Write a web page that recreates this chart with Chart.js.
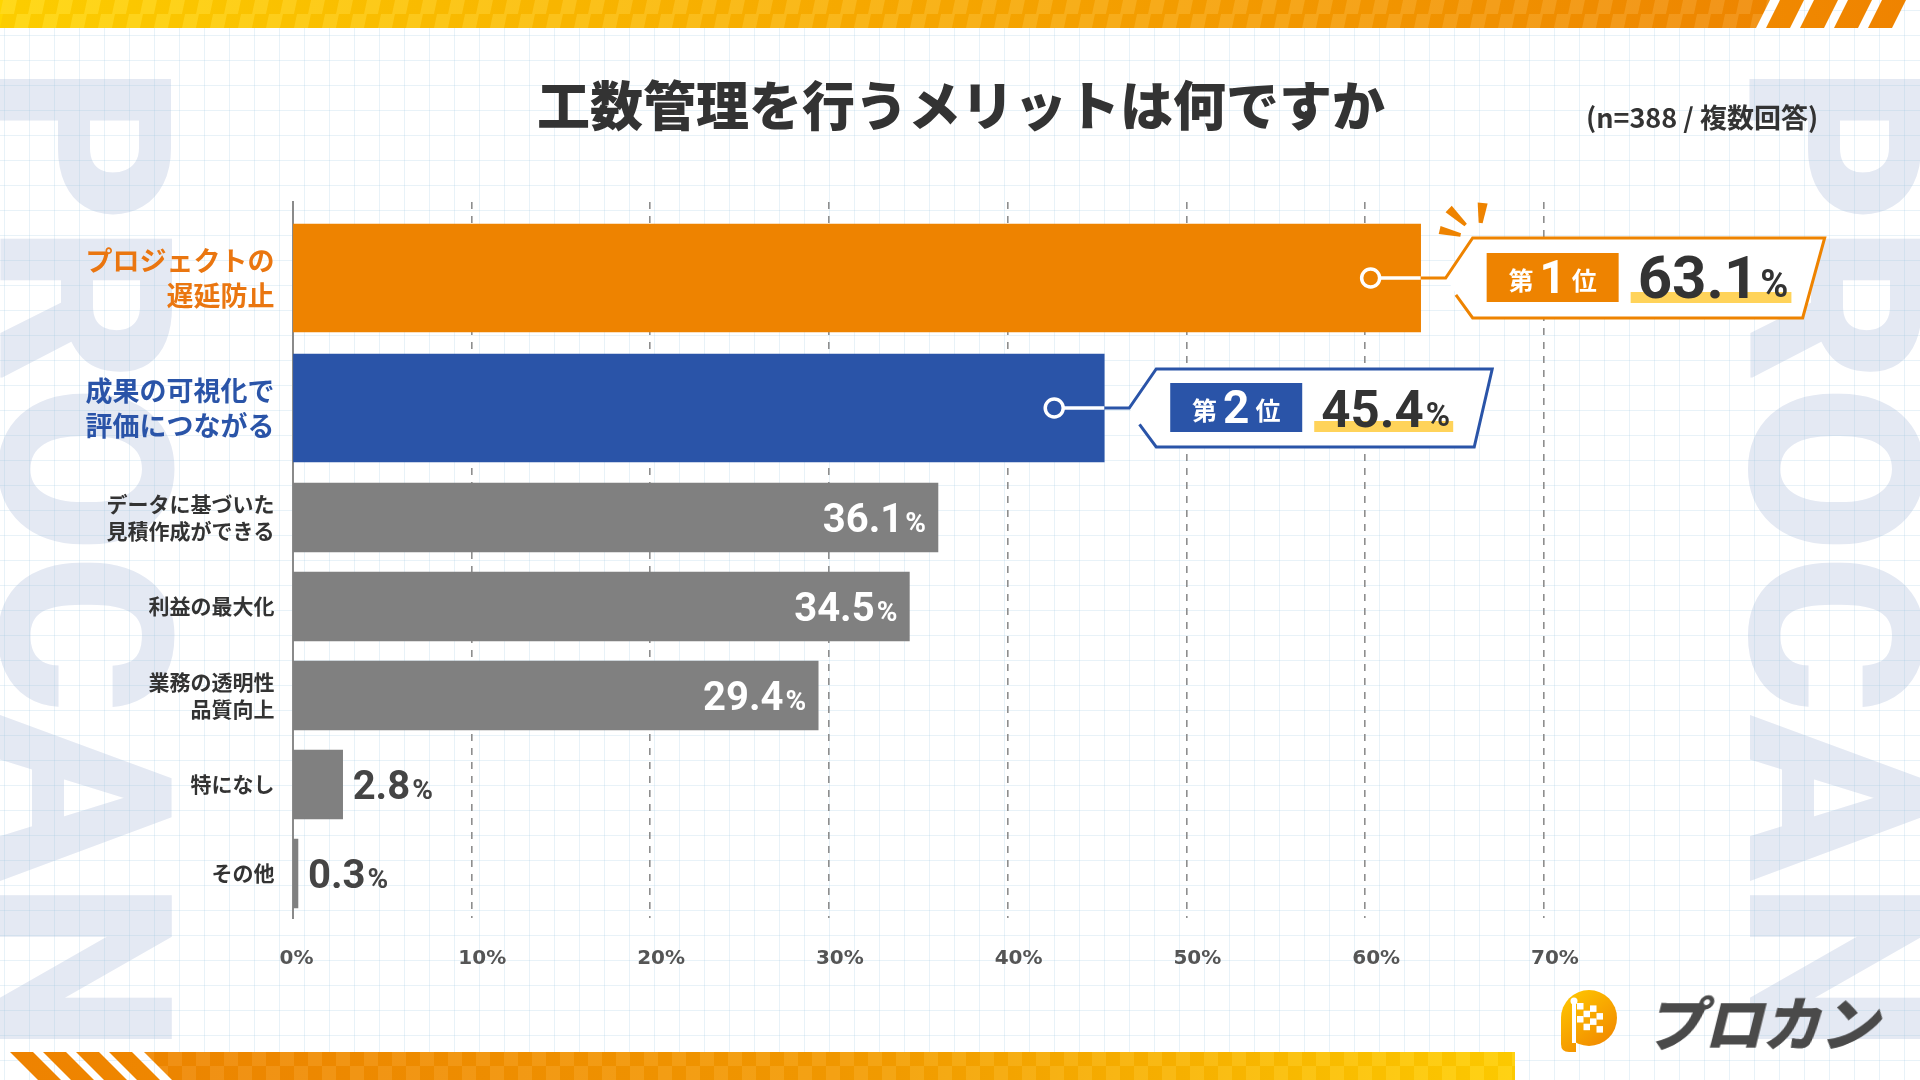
<!DOCTYPE html>
<html lang="ja">
<head>
<meta charset="utf-8">
<script src="https://cdn.jsdelivr.net/npm/chart.js@4.4.1/dist/chart.umd.min.js"></script>
<style>
html,body{margin:0;padding:0;}
body{width:1920px;height:1080px;position:relative;overflow:hidden;background:#ffffff;font-family:'Noto Sans CJK JP','Noto Sans',sans-serif;}
.wm{position:absolute;top:66px;font-family:Roboto,'Noto Sans',sans-serif;font-weight:900;font-size:242px;line-height:242px;color:#e4e9f3;transform-origin:0 0;transform:rotate(90deg);white-space:nowrap;z-index:0;letter-spacing:2px;}
#deco{position:absolute;left:0;top:0;z-index:1;}
#c{position:absolute;left:0;top:0;z-index:2;}
.title{position:absolute;left:0;top:77px;width:1922px;text-align:center;font-size:53px;line-height:53px;font-weight:900;color:#333333;z-index:3;letter-spacing:0px;}
.sub{position:absolute;left:1586px;top:102px;font-size:27px;line-height:30px;font-weight:700;color:#333333;z-index:3;white-space:nowrap;}
.logo{position:absolute;left:1644px;top:990px;font-size:59px;line-height:62px;font-weight:900;color:#4a4a4a;z-index:3;white-space:nowrap;transform:skewX(-14deg);transform-origin:50% 100%;letter-spacing:-1px;}
</style>
</head>
<body>
<div class="wm" style="left:204px;">PROCAN</div>
<div class="wm" style="left:1954px;">PROCAN</div>
<canvas id="deco" width="1920" height="1080"></canvas>
<canvas id="c" width="1920" height="1080"></canvas>
<div class="title">工数管理を行うメリットは何ですか</div>
<div class="sub">(n=388 / 複数回答)</div>
<div class="logo">プロカン</div>
<script>
// ---------- DATA ----------
const topCategories = [['プロジェクトの', '遅延防止'], ['成果の可視化で', '評価につながる']];
const topValues = [63.1, 45.4];
const topRanks = ['1', '2'];
const otherCategories = [['データに基づいた', '見積作成ができる'], '利益の最大化', ['業務の透明性', '品質向上'], '特になし', 'その他'];
const otherValues = [36.1, 34.5, 29.4, 2.8, 0.3];
const xTickValues = [0, 10, 20, 30, 40, 50, 60, 70];

// ---------- STYLE ----------
const ORANGE = '#EE8300';
const ORANGE_TEXT = '#EA7610';
const BLUE = '#2A54A8';
const GRAY = '#808080';
const NUM_FONT = 'Roboto, "DejaVu Sans", sans-serif';
const JP_FONT = '"Noto Sans CJK JP", "Noto Sans", sans-serif';

// ---------- DECORATION (background) ----------
(function drawDeco(){
  const cv = document.getElementById('deco');
  const g = cv.getContext('2d');
  g.strokeStyle = 'rgba(150,195,225,0.22)';
  g.lineWidth = 1;
  for (let x = 4.5; x < 1920; x += 25) { g.beginPath(); g.moveTo(x, 0); g.lineTo(x, 1080); g.stroke(); }
  for (let y = 10.5; y < 1080; y += 25) { g.beginPath(); g.moveTo(0, y); g.lineTo(1920, y); g.stroke(); }

  const tg = g.createLinearGradient(0, 0, 1910, 0);
  tg.addColorStop(0, '#FFD500'); tg.addColorStop(0.45, '#F9AE00'); tg.addColorStop(1, '#EF8300');
  g.fillStyle = tg;
  g.beginPath(); g.moveTo(0, 0); g.lineTo(1770, 0); g.lineTo(1756, 28); g.lineTo(0, 28); g.closePath(); g.fill();
  for (let k = 0; k < 4; k++) {
    const b = 1766 + k * 34;
    g.beginPath(); g.moveTo(b, 28); g.lineTo(b + 24, 28); g.lineTo(b + 38, 0); g.lineTo(b + 14, 0); g.closePath(); g.fill();
  }
  g.save();
  g.beginPath(); g.moveTo(0, 0); g.lineTo(1770, 0); g.lineTo(1756, 28); g.lineTo(0, 28); g.closePath(); g.clip();
  for (let x = 0; x < 1770; x += 14) {
    for (let r = 0; r < 2; r++) {
      g.fillStyle = ((x / 14 + r) % 2 === 0) ? 'rgba(255,255,255,0.10)' : 'rgba(200,90,0,0.06)';
      g.beginPath();
      g.moveTo(x + 3, r * 14); g.lineTo(x + 17, r * 14); g.lineTo(x + 14, r * 14 + 14); g.lineTo(x, r * 14 + 14); g.closePath(); g.fill();
    }
  }
  g.restore();

  const bg = g.createLinearGradient(0, 0, 1515, 0);
  bg.addColorStop(0, '#EE8200'); bg.addColorStop(0.55, '#F39A00'); bg.addColorStop(1, '#FFCF00');
  g.fillStyle = bg;
  g.beginPath(); g.moveTo(144, 1052); g.lineTo(1515, 1052); g.lineTo(1515, 1080); g.lineTo(172, 1080); g.closePath(); g.fill();
  for (let k = 0; k < 4; k++) {
    const t = 10 + k * 33;
    g.beginPath(); g.moveTo(t, 1052); g.lineTo(t + 23, 1052); g.lineTo(t + 51, 1080); g.lineTo(t + 28, 1080); g.closePath(); g.fill();
  }
  g.save();
  g.beginPath(); g.moveTo(144, 1052); g.lineTo(1515, 1052); g.lineTo(1515, 1080); g.lineTo(172, 1080); g.closePath(); g.clip();
  for (let x = 140; x < 1515; x += 14) {
    for (let r = 0; r < 2; r++) {
      g.fillStyle = ((x / 14 + r) % 2 === 0) ? 'rgba(255,255,255,0.08)' : 'rgba(200,90,0,0.05)';
      g.fillRect(x, 1052 + r * 14, 14, 14);
    }
  }
  g.restore();

  const lg = g.createLinearGradient(1565, 990, 1612, 1052);
  lg.addColorStop(0, '#FFC800'); lg.addColorStop(1, '#F08200');
  g.fillStyle = lg;
  g.beginPath(); g.arc(1589, 1018, 28, 0, Math.PI * 2); g.fill();
  g.beginPath();
  g.moveTo(1561, 1018); g.lineTo(1561, 1044); g.quadraticCurveTo(1561, 1052, 1569, 1052); g.lineTo(1576, 1052); g.lineTo(1576, 1030); g.closePath(); g.fill();
  g.fillStyle = '#ffffff';
  g.fillRect(1572, 1003, 4, 40);
  g.beginPath(); g.arc(1574, 1001, 3.5, 0, Math.PI * 2); g.fill();
  const sq = 6.5;
  for (let r = 0; r < 4; r++) {
    for (let c = 0; c < 4; c++) {
      if ((r + c) % 2 === 0) g.fillRect(1577 + c * sq, 1003 + r * sq + c * 1.2, sq, sq);
    }
  }
})();

// ---------- CHART ----------
function drawWedge(ctx, x1, y1, x2, y2, w1, w2) {
  const dx = x2 - x1, dy = y2 - y1, len = Math.hypot(dx, dy);
  const nx = -dy / len, ny = dx / len;
  ctx.beginPath();
  ctx.moveTo(x1 + nx * w1 / 2, y1 + ny * w1 / 2);
  ctx.lineTo(x2 + nx * w2 / 2, y2 + ny * w2 / 2);
  ctx.lineTo(x2 - nx * w2 / 2, y2 - ny * w2 / 2);
  ctx.lineTo(x1 - nx * w1 / 2, y1 - ny * w1 / 2);
  ctx.closePath(); ctx.fill();
}

function drawCallout(ctx, bar, o) {
  const bx = bar.x, by = bar.y;
  const L = bx + 52, T = by - o.h / 2, B = by + o.h / 2, R = L + o.w;
  const fx = bx + 25, fy = by;
  ctx.save();
  ctx.fillStyle = '#ffffff';
  ctx.beginPath(); ctx.moveTo(fx, fy); ctx.lineTo(L, T); ctx.lineTo(R, T); ctx.lineTo(R - o.slant, B); ctx.lineTo(L, B); ctx.closePath(); ctx.fill();
  ctx.strokeStyle = o.color; ctx.lineWidth = 3; ctx.lineJoin = 'miter'; ctx.lineCap = 'butt';
  const ax = L + (fx - L) * 0.62, ay = B + (fy - B) * 0.58;
  ctx.beginPath();
  ctx.moveTo(ax, ay); ctx.lineTo(L, B); ctx.lineTo(R - o.slant, B); ctx.lineTo(R, T); ctx.lineTo(L, T); ctx.lineTo(fx, fy); ctx.lineTo(bx, fy);
  ctx.stroke();
  const cx = bx - 50;
  ctx.strokeStyle = '#ffffff'; ctx.lineWidth = 3.5;
  ctx.beginPath(); ctx.moveTo(cx + 9, by); ctx.lineTo(bx, by); ctx.stroke();
  ctx.fillStyle = o.color;
  ctx.beginPath(); ctx.arc(cx, by, 9, 0, Math.PI * 2); ctx.fill(); ctx.stroke();
  if (o.sparkle) {
    ctx.fillStyle = o.color;
    drawWedge(ctx, L - 33, T - 8, L - 12, T - 3, 8, 3.5);
    drawWedge(ctx, L - 24, T - 29, L - 7, T - 13, 9, 3.5);
    drawWedge(ctx, L + 10, T - 35, L + 8, T - 15, 10, 4);
  }
  const rx = L + 14, rw = 132, rh = 49;
  ctx.fillStyle = o.color;
  ctx.fillRect(rx, by - 25, rw, rh);
  ctx.fillStyle = '#ffffff';
  ctx.textBaseline = 'alphabetic';
  const f1 = '700 25px ' + JP_FONT, f2 = '700 46px ' + NUM_FONT;
  ctx.font = f1; const w1 = ctx.measureText('第').width; const w3 = ctx.measureText('位').width;
  ctx.font = f2; const w2 = ctx.measureText(o.rank).width;
  const gap = 6;
  let tx = rx + rw / 2 - (w1 + w2 + w3 + gap * 2) / 2;
  const tb = by + 12;
  ctx.font = f1; ctx.fillText('第', tx, tb); tx += w1 + gap;
  ctx.font = f2; ctx.fillText(o.rank, tx, tb + 3); tx += w2 + gap;
  ctx.font = f1; ctx.fillText('位', tx, tb);
  const num = o.value.toFixed(1);
  const nf = '700 ' + o.numSize + 'px ' + NUM_FONT, pf = '700 ' + o.pctSize + 'px ' + NUM_FONT;
  ctx.font = nf; const wn = ctx.measureText(num).width;
  ctx.font = pf; const wp = ctx.measureText('%').width;
  const nx = L + 165, nb = by + o.baseOff;
  ctx.fillStyle = '#FFD35A';
  ctx.fillRect(nx - 7, nb - 6, wn + wp + 12, 11);
  ctx.fillStyle = '#333333';
  ctx.font = nf; ctx.fillText(num, nx, nb);
  ctx.font = pf; ctx.fillText('%', nx + wn + 2, nb - 1);
  ctx.restore();
}

const labelPlugin = {
  id: 'valueLabels',
  afterDatasetsDraw(chart) {
    const ctx = chart.ctx;
    const metaO = chart.getDatasetMeta(1);
    metaO.data.forEach((bar, i) => {
      const num = otherValues[i].toFixed(1);
      const inside = (bar.x - bar.base) > 150;
      const nf = '700 40px ' + NUM_FONT, pf = '700 28px ' + NUM_FONT;
      ctx.save();
      ctx.textBaseline = 'alphabetic';
      ctx.font = nf; const wn = ctx.measureText(num).width;
      ctx.font = pf; const wp = ctx.measureText('%').width;
      const total = wn + 2 + wp;
      const x0 = inside ? bar.x - 12 - total : bar.x + 10;
      const yb = bar.y + 14;
      ctx.fillStyle = inside ? '#ffffff' : '#444444';
      ctx.font = nf; ctx.fillText(num, x0, yb);
      ctx.font = pf; ctx.fillText('%', x0 + wn + 2, yb);
      ctx.restore();
    });
    const metaT = chart.getDatasetMeta(0);
    const styles = [
      {color: ORANGE, w: 352, h: 80, slant: 22, numSize: 60, pctSize: 38, baseOff: 20, sparkle: true},
      {color: BLUE, w: 336, h: 78, slant: 18, numSize: 51, pctSize: 33, baseOff: 19, sparkle: false}
    ];
    metaT.data.forEach((bar, i) => {
      drawCallout(ctx, bar, Object.assign({rank: topRanks[i], value: topValues[i]}, styles[i]));
    });
  }
};

const yAxisBase = {
  type: 'category', position: 'left', stack: 'cats', offset: true,
  afterFit: (s) => { s.width = 292.6; },
  grid: {display: false, drawTicks: false},
  border: {display: true, color: '#8a8a8a', width: 2}
};

new Chart(document.getElementById('c'), {
  type: 'bar',
  data: {
    datasets: [
      {data: topValues, yAxisID: 'y1', backgroundColor: [ORANGE, BLUE], barThickness: 108, grouped: false},
      {data: otherValues, yAxisID: 'y2', backgroundColor: GRAY, barThickness: 69, grouped: false}
    ]
  },
  options: {
    indexAxis: 'y',
    responsive: false,
    devicePixelRatio: 1,
    animation: false,
    events: [],
    layout: {padding: {left: 0, top: 202, right: 376, bottom: 102}},
    plugins: {legend: {display: false}, tooltip: {enabled: false}, title: {display: false}},
    scales: {
      x: {
        type: 'linear', position: 'bottom', min: 0, max: 70,
        afterBuildTicks: (s) => { s.ticks = xTickValues.map(v => ({value: v})); },
        afterFit: (s) => { s.height = 60; },
        grid: {color: (c) => c.index === 0 ? 'rgba(0,0,0,0)' : '#8e8e8e', lineWidth: 1.6, drawTicks: false},
        border: {display: false, dash: [7, 7]},
        ticks: {align: 'start', labelOffset: -13, padding: 29, color: '#555555',
          font: {family: '"DejaVu Sans", sans-serif', size: 20, weight: 'bold'},
          callback: (v) => v + '%'}
      },
      y0: Object.assign({}, yAxisBase, {
        labels: [''], stackWeight: 11, weight: 3,
        ticks: {display: false}
      }),
      y1: Object.assign({}, yAxisBase, {
        labels: topCategories, stackWeight: 260, weight: 2,
        ticks: {padding: 18, autoSkip: false, color: (c) => [ORANGE_TEXT, BLUE][c.index],
          font: {family: JP_FONT, size: 27, weight: 'bold', lineHeight: 1.3}}
      }),
      y2: Object.assign({}, yAxisBase, {
        labels: otherCategories, stackWeight: 445, weight: 1,
        ticks: {padding: 18, autoSkip: false, color: '#333333',
          font: {family: JP_FONT, size: 21, weight: 'bold', lineHeight: 1.33}}
      })
    }
  },
  plugins: [labelPlugin]
});
</script>
</body>
</html>
